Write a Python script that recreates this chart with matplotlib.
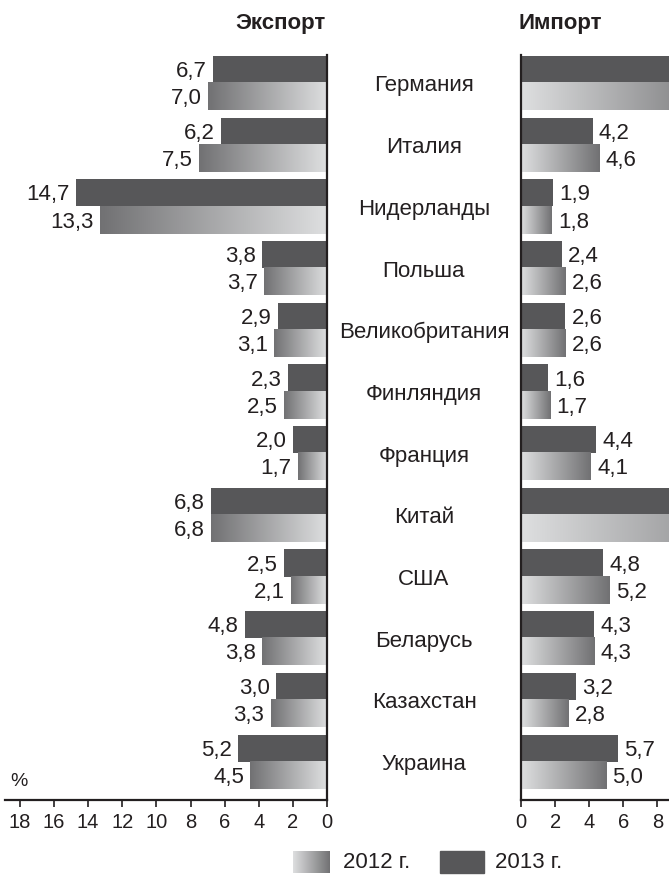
import matplotlib.pyplot as plt
import numpy as np
from matplotlib.colors import LinearSegmentedColormap
from matplotlib.patches import Rectangle
from matplotlib.transforms import offset_copy

plt.rcParams['font.family'] = ['Liberation Sans', 'DejaVu Sans']

# Доли стран во внешней торговле, %
countries = ['Германия', 'Италия', 'Нидерланды', 'Польша', 'Великобритания',
             'Финляндия', 'Франция', 'Китай', 'США', 'Беларусь', 'Казахстан', 'Украина']
export_2013 = [6.7, 6.2, 14.7, 3.8, 2.9, 2.3, 2.0, 6.8, 2.5, 4.8, 3.0, 5.2]
export_2012 = [7.0, 7.5, 13.3, 3.7, 3.1, 2.5, 1.7, 6.8, 2.1, 3.8, 3.3, 4.5]
import_2013 = [12.0, 4.2, 1.9, 2.4, 2.6, 1.6, 4.4, 16.9, 4.8, 4.3, 3.2, 5.7]
import_2012 = [12.2, 4.6, 1.8, 2.6, 2.6, 1.7, 4.1, 16.6, 5.2, 4.3, 2.8, 5.0]

dark = '#575759'
txt = '#231f20'
grad = LinearSegmentedColormap.from_list('grad', ['#dedfe0', '#717173'])
bh = 0.44
W, H = 669, 875
row0, step = 83, 61.7   # центр первой строки и шаг, px
ybot, ytop = 800, 55

fig = plt.figure(figsize=(W / 100, H / 100), dpi=100)

def fmt(v):
    return f'{v:.1f}'.replace('.', ',')

def panel(ax, v13, v12, xmax, side):
    ramp = np.linspace(0, 1, 256).reshape(1, -1)
    dx = -4.5 if side == 'left' else 4.5
    lab = offset_copy(ax.transData, fig=fig, x=dx, y=-1.5, units='points')
    for i, (a, b) in enumerate(zip(v13, v12)):
        ax.barh(i - bh / 2, a, height=bh, color=dark, zorder=2)
        # 2012: светлый у оси, тёмный к концу столбца
        ax.imshow(ramp, cmap=grad, aspect='auto', extent=(0, b, i + bh, i),
                  zorder=2, interpolation='bilinear')
        for v, y in ((a, i - bh / 2), (b, i + bh / 2)):
            if v < xmax:
                ax.text(v, y, fmt(v), transform=lab,
                        ha='left' if side == 'right' else 'right',
                        va='center', fontsize=16, color=txt, zorder=3)
    ax.set_ylim((ybot - row0) / step, (ytop - row0) / step)
    ax.set_yticks([])
    for s in ('top', 'left', 'right', 'bottom'):
        ax.spines[s].set_visible(False)
    keep = 'right' if side == 'left' else 'left'
    for s in (keep, 'bottom'):
        ax.spines[s].set_visible(True)
        ax.spines[s].set_linewidth(1.6)
        ax.spines[s].set_color(txt)
    ax.tick_params(axis='x', direction='out', length=5, width=1.2, color=txt,
                   labelsize=14.5, labelcolor=txt, pad=4)

px = 17.06  # пикселей на 1 %
y0 = 1 - ybot / H
hgt = (ybot - ytop) / H

axl = fig.add_axes([5 / W, y0, (327 - 5) / W, hgt])
panel(axl, export_2013, export_2012, 99, 'left')
axl.set_xlim((327 - 5) / px, 0)
axl.set_xticks(range(0, 19, 2))

axr = fig.add_axes([521 / W, y0, (W - 521) / W, hgt])
panel(axr, import_2013, import_2012, (W - 521) / px, 'right')
axr.set_xlim(0, (W - 521) / px)
axr.set_xticks(range(0, 9, 2))

for i, c in enumerate(countries):
    yc = row0 + step * i + 3
    fig.text(424 / W, 1 - yc / H, c, ha='center', va='center', fontsize=16, color=txt)

fig.text(280 / W, 1 - 24 / H, 'Экспорт', ha='center', va='center',
         fontsize=16, fontweight='bold', color=txt)
fig.text(560 / W, 1 - 24 / H, 'Импорт', ha='center', va='center',
         fontsize=16, fontweight='bold', color=txt)
fig.text(10 / W, 1 - 782 / H, '%', ha='left', va='center', fontsize=14, color=txt)

# легенда
lg = fig.add_axes([293 / W, 1 - 873 / H, 37 / W, 22 / H])
lg.imshow(np.linspace(0, 1, 256).reshape(1, -1), cmap=grad, aspect='auto',
          interpolation='bilinear')
lg.axis('off')
fig.text(343 / W, 1 - 862 / H, '2012 г.', ha='left', va='center', fontsize=16, color=txt)
fig.patches.append(Rectangle((440 / W, 1 - 873 / H), 44 / W, 22 / H,
                             transform=fig.transFigure, color=dark))
fig.text(495 / W, 1 - 862 / H, '2013 г.', ha='left', va='center', fontsize=16, color=txt)

fig.savefig('out.png', dpi=100)
